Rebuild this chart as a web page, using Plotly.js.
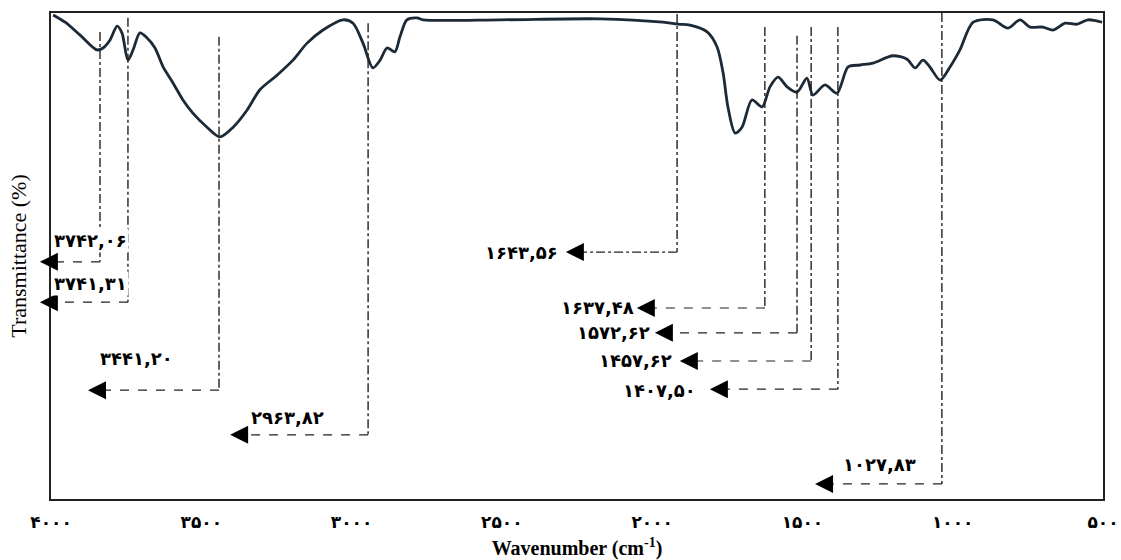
<!DOCTYPE html>
<html>
<head>
<meta charset="utf-8">
<script src="https://cdn.plot.ly/plotly-3.0.1.min.js"></script>
<style>html,body{margin:0;padding:0;background:#fff;}#chart{width:1121px;height:560px;}</style>
</head>
<body>
<div id="chart"></div>
<script>
// Spectrum (wavenumber cm-1, transmittance %)
const wavenumber = [3993,3953,3904,3847,3827,3804,3780,3764,3744,3727,3704,3681,3654,3627,3594,3561,3528,3481,3438,3394,3348,3305,3248,3195,3148,3095,3029,2995,2962,2929,2905,2882,2856,2839,2816,2782,2762,2506,2173,1964,1914,1874,1817,1784,1764,1748,1724,1701,1668,1634,1608,1581,1551,1518,1485,1465,1425,1385,1348,1308,1265,1199,1152,1125,1099,1076,1042,1009,976,932,866,816,776,743,700,666,626,586,550,503];
const transmittance = [99.6,98.1,95.5,92.4,92.8,94.4,97.3,95.9,90.3,92.4,95.9,94.9,92.8,88.9,85.6,82.1,79.4,76.5,74.5,76.5,80.0,84.2,87.2,90.3,93.8,96.5,98.6,97.9,93.8,88.7,90.3,92.8,92.0,95.1,98.6,99.0,98.6,98.6,98.8,98.1,97.7,97.5,96.1,93.0,87.7,80.7,75.3,76.5,82.1,80.7,84.8,86.8,84.8,83.7,86.6,83.1,85.2,83.5,88.9,89.3,89.7,91.2,90.5,88.7,90.3,88.9,86.2,88.9,92.4,98.1,98.6,96.9,98.6,97.1,97.1,96.5,97.9,97.7,98.6,98.1];

// Peak annotations
const peakLabels = ["۳۷۴۲,۰۶","۳۷۴۱,۳۱","۳۴۴۱,۲۰","۲۹۶۳,۸۲","۱۶۴۳,۵۶","۱۶۳۷,۴۸","۱۵۷۲,۶۲","۱۴۵۷,۶۲","۱۴۰۷,۵۰","۱۰۲۷,۸۳"];
const peakLineX   = [3837,3744,3441,2945,1917,1625,1518,1471,1382,1036];
const peakLineTop = [96.1,99.0,95.1,97.9,99.8,97.1,95.3,97.1,97.1,100];
const arrowLevel  = [48.8,40.5,22.4,13.2,50.8,39.3,34.2,28.4,22.6,3.1];
const arrowTipX   = [4037,4037,3877,3404,2287,2051,1991,1908,1808,1458];
const labelX      = [3870,3870,3714,3212,2436,2183,2127,2054,1977,1242];
const labelY      = [53.1,44.4,29.0,16.7,50.8,39.5,34.2,28.6,22.4,7.0];
const lineDash    = ["dashdot","dashdot","dashdot","dashdot","dashdot","dashdot","dashdot","dashdot","dashdot","dashdot"];
const arrowDash   = ["dash","dash","dash","dash","dashdot","dash","dash","dash","dash","dash"];

// Axis ticks
const tickVals = [4000,3500,3000,2500,2000,1500,1000,500];
const tickText = ["۴۰۰۰","۳۵۰۰","۳۰۰۰","۲۵۰۰","۲۰۰۰","۱۵۰۰","۱۰۰۰","۵۰۰"];
const xRange = [4000,500];
const toPaperX = w => (xRange[0] - w) / (xRange[0] - xRange[1]);

const shapes = [];
const annotations = [];
for (let i = 0; i < peakLabels.length; i++) {
  shapes.push({type:"line", xref:"x", yref:"y", x0:peakLineX[i], x1:peakLineX[i], y0:peakLineTop[i], y1:arrowLevel[i],
    line:{color:"#222", width:1.4, dash:lineDash[i]}, layer:"above"});
  shapes.push({type:"line", xref:"x", yref:"y", x0:peakLineX[i], x1:arrowTipX[i]-30, y0:arrowLevel[i], y1:arrowLevel[i],
    line:{color:"#222", width:1.2, dash:arrowDash[i]}, layer:"above"});
  annotations.push({xref:"paper", yref:"y", x:toPaperX(arrowTipX[i]), y:arrowLevel[i], ax:16, ay:0, text:"", showarrow:true,
    arrowhead:2, arrowsize:1.8, arrowwidth:2, arrowcolor:"#000"});
  annotations.push({xref:"x", yref:"y", x:labelX[i], y:labelY[i], text:peakLabels[i], showarrow:false,
    bgcolor:"#fff", font:{family:"DejaVu Sans", size:18, color:"#000", weight:"bold"}});
}

const traces = [
  {x:wavenumber, y:transmittance, type:"scatter", mode:"lines", line:{color:"#1b2a36", width:2.8, shape:"spline", smoothing:0.8}, hoverinfo:"skip"}
];

const layout = {
  width:1121, height:560,
  margin:{l:51, r:18, t:13, b:61},
  paper_bgcolor:"#fff", plot_bgcolor:"#fff",
  showlegend:false,
  xaxis:{range:xRange, showgrid:false, zeroline:false, showline:true, mirror:true, linecolor:"#222", linewidth:2,
    ticks:"", tickvals:tickVals, ticktext:tickText, ticklabelstandoff:7,
    tickfont:{family:"DejaVu Sans", size:17, color:"#000", weight:"bold"},
    title:{text:"Wavenumber (cm<sup>-1</sup>)", font:{family:"Liberation Serif", size:20, color:"#000", weight:"bold"}, standoff:12}},
  yaxis:{range:[0,100], showgrid:false, zeroline:false, showline:true, mirror:true, linecolor:"#222", linewidth:2,
    ticks:"", showticklabels:false,
    title:{text:"Transmittance (%)", font:{family:"Liberation Serif", size:22, color:"#000"}, standoff:16}},
  shapes:shapes,
  annotations:annotations
};

Plotly.newPlot("chart", traces, layout, {staticPlot:true, displayModeBar:false});
</script>
</body>
</html>
